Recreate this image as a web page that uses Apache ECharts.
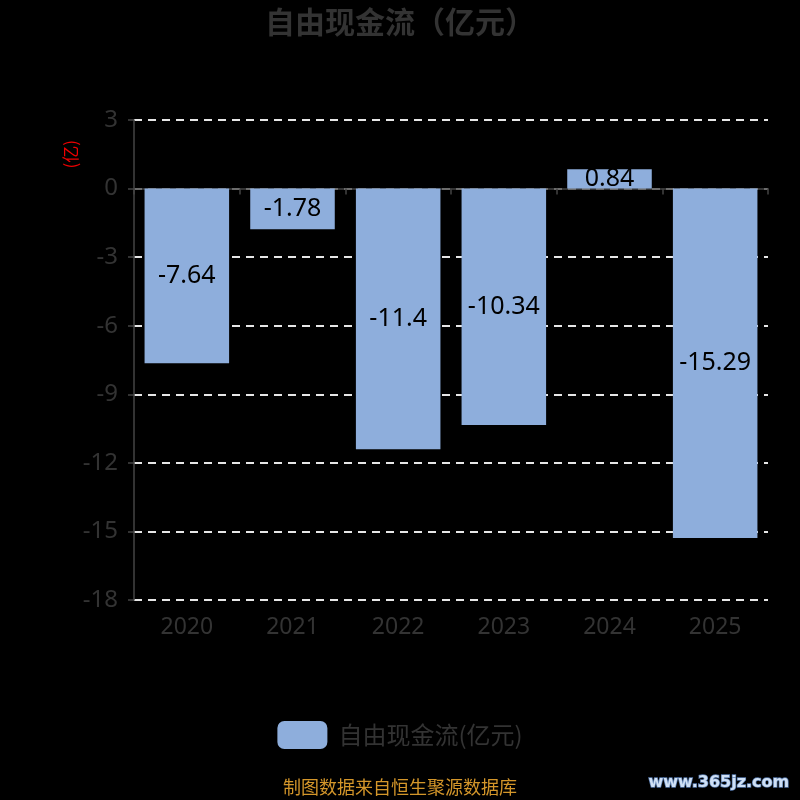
<!DOCTYPE html>
<html>
<head>
<meta charset="utf-8">
<style>html,body{margin:0;padding:0;background:#000;}#c{width:800px;height:800px;}</style>
<script src="https://cdn.jsdelivr.net/npm/echarts@6/dist/echarts.min.js"></script>
</head>
<body>
<div id="c"></div>
<script>
var categories = ['2020', '2021', '2022', '2023', '2024', '2025'];
var values = [-7.64, -1.78, -11.4, -10.34, 0.84, -15.29];
var seriesName = '自由现金流(亿元)';
var titleText = '自由现金流（亿元）';
var yMin = -18, yMax = 3, yInterval = 3;

var chart = echarts.init(document.getElementById('c'));
chart.setOption({
  backgroundColor: '#000',
  title: {
    text: titleText, left: 'center', top: 2,
    textStyle: { color: '#333', fontSize: 30, fontWeight: 'bold', fontFamily: 'Noto Sans CJK SC' }
  },
  grid: { left: 134, right: 32, top: 120, bottom: 200, containLabel: false },
  legend: {
    bottom: 46, left: 'center', itemWidth: 50, itemHeight: 28, itemGap: 10,
    icon: 'roundRect',
    textStyle: { color: '#333', fontSize: 24, padding: [0, 0, 0, 6], fontFamily: 'Noto Sans CJK SC' },
    data: [seriesName]
  },
  xAxis: {
    type: 'category', data: categories,
    axisLine: { onZero: true, lineStyle: { color: '#444', width: 1.5 } },
    axisTick: { show: true, length: 6, lineStyle: { color: '#444', width: 1.5 } },
    axisLabel: { color: '#333', fontSize: 23, margin: 16, fontFamily: 'Noto Sans' },
    position: 'bottom'
  },
  yAxis: {
    type: 'value', min: yMin, max: yMax, interval: yInterval,
    axisLine: { show: true, lineStyle: { color: '#444', width: 1.5 } },
    axisTick: { show: true, length: 6, lineStyle: { color: '#444', width: 1.5 } },
    axisLabel: { color: '#333', fontSize: 24, margin: 16, fontFamily: 'Noto Sans' },
    splitLine: { show: true, lineStyle: { color: '#e6e6e6', type: [8, 6], width: 2 } }
  },
  graphic: [
    { type: 'text', left: 62, top: 140, rotation: Math.PI / 2,
      style: { text: '(亿)', fill: '#e00', fontSize: 17, fontFamily: 'Noto Sans CJK SC' } },
    { type: 'text', left: 'center', top: 778,
      style: { text: '制图数据来自恒生聚源数据库', fill: '#d4962a', fontSize: 18, fontFamily: 'Noto Sans CJK SC' } },
    { type: 'text', right: 10, top: 774,
      style: { text: 'www.365jz.com', fill: '#cfe0f5', stroke: '#5577aa', lineWidth: 1.5, fontSize: 16, fontWeight: 'bold', fontFamily: 'DejaVu Sans' } }
  ],
  series: [{
    name: seriesName, type: 'bar', data: values,
    barCategoryGap: '20%',
    itemStyle: { color: '#8eaedc' },
    label: { show: true, position: 'inside', color: '#000', fontSize: 25, fontFamily: 'Noto Sans' }
  }]
});
</script>
</body>
</html>
